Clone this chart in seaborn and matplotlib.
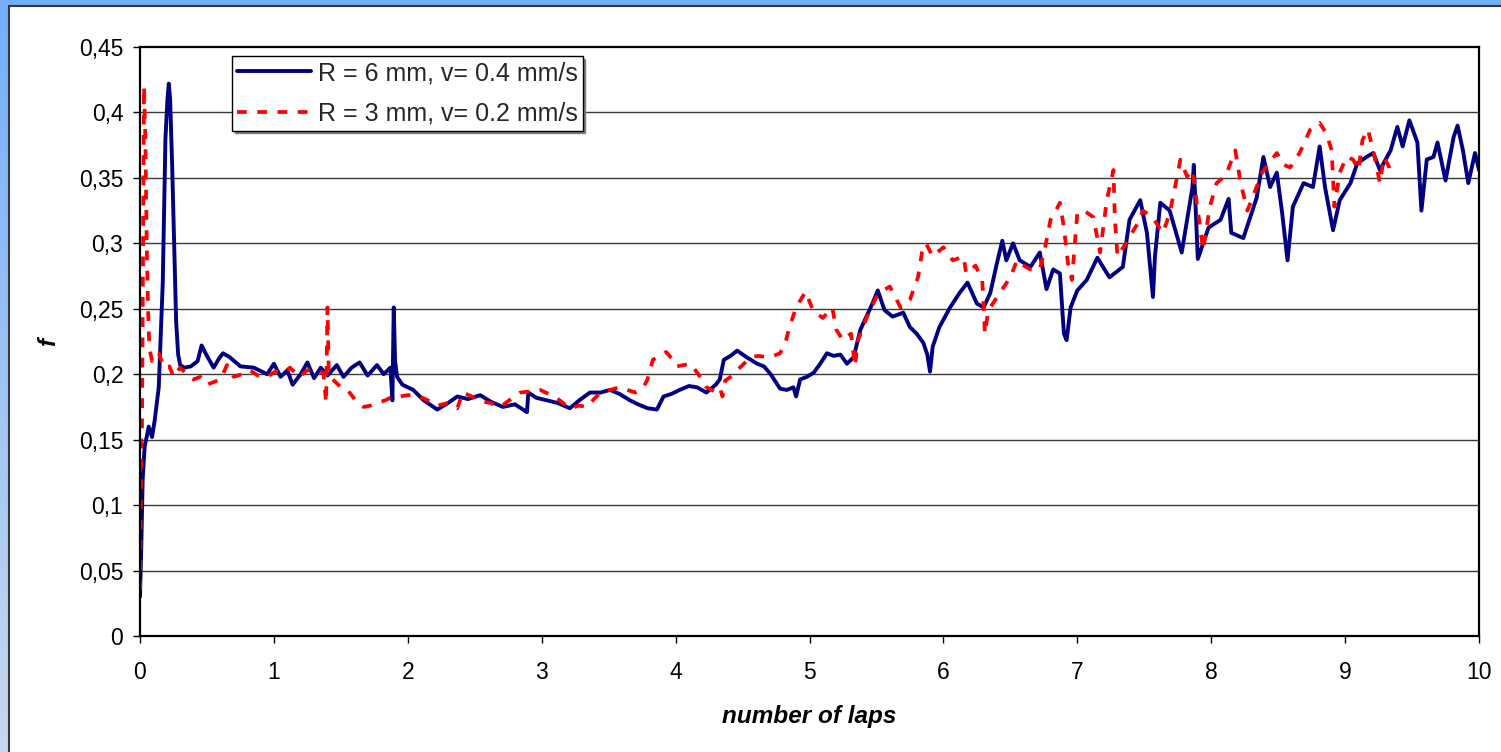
import numpy as np
import pandas as pd
import matplotlib
matplotlib.use("Agg")
import matplotlib.pyplot as plt
from matplotlib.patches import Rectangle
import seaborn as sns

# ---------------- data ----------------
blue_laps = [0.0, 0.01, 0.02, 0.035, 0.05, 0.065, 0.09, 0.11, 0.14, 0.17, 0.19, 0.205, 0.215, 0.225, 0.24,
             0.255, 0.27, 0.285, 0.30, 0.33, 0.38, 0.43, 0.46, 0.50, 0.55, 0.59, 0.62, 0.67, 0.75, 0.85,
             0.95, 1.0, 1.05, 1.1, 1.14, 1.2, 1.25, 1.3, 1.35, 1.4, 1.47, 1.52, 1.58, 1.64, 1.7, 1.77,
             1.82, 1.87, 1.885, 1.895, 1.905, 1.92, 1.96, 2.04, 2.12, 2.22, 2.3, 2.37, 2.45, 2.54, 2.62,
             2.71, 2.8, 2.89, 2.9, 2.96, 3.04, 3.12, 3.21, 3.28, 3.36, 3.44, 3.51, 3.58, 3.66, 3.72, 3.79,
             3.86, 3.91, 3.97, 4.03, 4.1, 4.16, 4.23, 4.3, 4.33, 4.36, 4.41, 4.46, 4.53, 4.61, 4.66, 4.71,
             4.78, 4.83, 4.88, 4.9, 4.93, 4.98, 5.03, 5.08, 5.13, 5.18, 5.23, 5.28, 5.33, 5.38, 5.43, 5.47,
             5.51, 5.56, 5.62, 5.70, 5.75, 5.80, 5.85, 5.88, 5.90, 5.92, 5.97, 6.05, 6.12, 6.18, 6.25,
             6.30, 6.35, 6.40, 6.44, 6.47, 6.52, 6.57, 6.65, 6.72, 6.77, 6.82, 6.87, 6.90, 6.92, 6.95,
             7.0, 7.07, 7.15, 7.24, 7.34, 7.39, 7.47, 7.52, 7.565, 7.58, 7.62, 7.69, 7.78, 7.86, 7.87,
             7.90, 7.98, 8.07, 8.13, 8.15, 8.24, 8.34, 8.39, 8.44, 8.49, 8.53, 8.57, 8.61, 8.69, 8.76,
             8.81, 8.85, 8.91, 8.96, 9.04, 9.09, 9.16, 9.21, 9.26, 9.34, 9.39, 9.43, 9.48, 9.54, 9.57,
             9.61, 9.66, 9.69, 9.75, 9.81, 9.84, 9.88, 9.92, 9.97, 10.0]
blue_f = [0.03, 0.07, 0.12, 0.145, 0.152, 0.16, 0.152, 0.165, 0.19, 0.27, 0.38, 0.41, 0.422, 0.41, 0.36,
          0.30, 0.24, 0.215, 0.207, 0.205, 0.206, 0.21, 0.222, 0.214, 0.205, 0.212, 0.216, 0.213, 0.206, 0.205,
          0.2, 0.208, 0.198, 0.203, 0.192, 0.2, 0.209, 0.197, 0.205, 0.199, 0.207, 0.198, 0.205, 0.209, 0.199, 0.207,
          0.2, 0.205, 0.18, 0.251, 0.21, 0.198, 0.192, 0.188, 0.18, 0.173, 0.178, 0.183, 0.181, 0.184, 0.179,
          0.175, 0.177, 0.171, 0.186, 0.182, 0.18, 0.178, 0.174, 0.18, 0.186, 0.186, 0.188, 0.185, 0.18, 0.177, 0.174,
          0.173, 0.183, 0.185, 0.188, 0.191, 0.19, 0.186, 0.192, 0.196, 0.211, 0.214, 0.218, 0.213, 0.208, 0.206, 0.2,
          0.189, 0.188, 0.19, 0.183, 0.196, 0.198, 0.201, 0.208, 0.216, 0.214, 0.215, 0.208, 0.213, 0.234, 0.245, 0.254,
          0.264, 0.249, 0.244, 0.247, 0.236, 0.231, 0.224, 0.215, 0.202, 0.221, 0.236, 0.251, 0.262, 0.27, 0.254,
          0.251, 0.262, 0.285, 0.302, 0.287, 0.3, 0.287, 0.282, 0.293, 0.265, 0.28, 0.277, 0.231, 0.226, 0.251,
          0.264, 0.272, 0.289, 0.274, 0.282, 0.318, 0.333, 0.308, 0.259, 0.29, 0.331, 0.325, 0.293, 0.343, 0.36,
          0.288, 0.312, 0.318, 0.334, 0.308, 0.304, 0.335, 0.366, 0.343, 0.354, 0.323, 0.287, 0.328, 0.346, 0.343,
          0.374, 0.343, 0.31, 0.333, 0.346, 0.361, 0.366, 0.369, 0.356, 0.371, 0.389, 0.374, 0.394, 0.377, 0.325,
          0.364, 0.366, 0.377, 0.348, 0.381, 0.39, 0.371, 0.346, 0.369, 0.356]

red_laps = [0.0, 0.005, 0.01, 0.015, 0.02, 0.025, 0.03, 0.04, 0.05, 0.06, 0.07, 0.09, 0.11, 0.14, 0.18, 0.22,
            0.25, 0.30, 0.35, 0.40, 0.45, 0.50, 0.55, 0.60, 0.65, 0.70, 0.76, 0.82, 0.88, 0.95, 1.01, 1.07,
            1.12, 1.19, 1.25, 1.32, 1.37, 1.39, 1.40, 1.41, 1.44, 1.5, 1.55, 1.61, 1.67, 1.72, 1.77, 1.83,
            1.89, 1.94, 2.0, 2.07, 2.15, 2.22, 2.3, 2.37, 2.41, 2.48, 2.56, 2.62, 2.69, 2.77, 2.84, 2.92,
            2.99, 3.05, 3.11, 3.16, 3.21, 3.28, 3.34, 3.39, 3.44, 3.51, 3.58, 3.64, 3.70, 3.76, 3.79, 3.83,
            3.88, 3.93, 3.97, 4.01, 4.06, 4.11, 4.17, 4.23, 4.29, 4.33, 4.35, 4.37, 4.41, 4.46, 4.51, 4.56,
            4.62, 4.68, 4.73, 4.78, 4.82, 4.85, 4.90, 4.97, 5.03, 5.10, 5.17, 5.20, 5.25, 5.31, 5.34, 5.36,
            5.38, 5.43, 5.50, 5.55, 5.60, 5.68, 5.75, 5.81, 5.84, 5.87, 5.92, 6.0, 6.07, 6.15, 6.17, 6.24,
            6.29, 6.31, 6.33, 6.35, 6.42, 6.50, 6.55, 6.60, 6.65, 6.72, 6.76, 6.80, 6.84, 6.87, 6.90, 6.93,
            6.96, 7.0, 7.05, 7.12, 7.17, 7.22, 7.27, 7.28, 7.30, 7.35, 7.39, 7.45, 7.49, 7.56, 7.64, 7.69,
            7.74, 7.77, 7.82, 7.86, 7.90, 7.94, 7.99, 8.04, 8.11, 8.18, 8.22, 8.27, 8.32, 8.38, 8.43, 8.49,
            8.54, 8.59, 8.66, 8.74, 8.81, 8.86, 8.90, 8.92, 8.96, 9.01, 9.06, 9.10, 9.13, 9.17, 9.21, 9.26,
            9.29, 9.33, 9.35]
red_f = [0.035, 0.10, 0.155, 0.16, 0.25, 0.35, 0.42, 0.38, 0.30, 0.25, 0.22, 0.21, 0.215, 0.216, 0.205, 0.206,
         0.198, 0.205, 0.2, 0.196, 0.198, 0.192, 0.194, 0.196, 0.207, 0.198, 0.2, 0.203, 0.199, 0.198, 0.202, 0.201,
         0.205, 0.198, 0.203, 0.203, 0.201, 0.178, 0.251, 0.2, 0.196, 0.19, 0.188, 0.18, 0.175, 0.176, 0.178, 0.18,
         0.183, 0.183, 0.184, 0.184, 0.18, 0.176, 0.178, 0.174, 0.186, 0.183, 0.179, 0.178, 0.175, 0.181, 0.186, 0.187,
         0.188, 0.185, 0.182, 0.178, 0.174, 0.176, 0.175, 0.181, 0.186, 0.188, 0.19, 0.188, 0.186, 0.19, 0.196, 0.211,
         0.214, 0.217, 0.212, 0.206, 0.207, 0.208, 0.2, 0.19, 0.187, 0.19, 0.183, 0.195, 0.198, 0.203, 0.208, 0.213,
         0.214, 0.213, 0.214, 0.216, 0.224, 0.236, 0.251, 0.263, 0.248, 0.243, 0.251, 0.234, 0.226, 0.231, 0.206, 0.225,
         0.231, 0.244, 0.259, 0.264, 0.267, 0.251, 0.257, 0.274, 0.293, 0.3, 0.29, 0.297, 0.287, 0.29, 0.277, 0.283,
         0.272, 0.231, 0.245, 0.251, 0.262, 0.274, 0.287, 0.283, 0.28, 0.28, 0.297, 0.318, 0.325, 0.331, 0.312, 0.285,
         0.272, 0.323, 0.325, 0.32, 0.293, 0.333, 0.356, 0.32, 0.29, 0.298, 0.305, 0.315, 0.325, 0.32, 0.308, 0.323,
         0.348, 0.364, 0.351, 0.356, 0.325, 0.295, 0.328, 0.346, 0.352, 0.371, 0.346, 0.325, 0.338, 0.354, 0.361, 0.369,
         0.36, 0.358, 0.369, 0.387, 0.392, 0.384, 0.371, 0.328, 0.354, 0.366, 0.364, 0.356, 0.379, 0.387, 0.371, 0.346,
         0.366, 0.358, 0.351]

series_names = ["R = 6 mm, v= 0.4 mm/s", "R = 3 mm, v= 0.2 mm/s"]
y_ticks = [0, 0.05, 0.1, 0.15, 0.2, 0.25, 0.3, 0.35, 0.4, 0.45]
y_tick_labels = ["0", "0,05", "0,1", "0,15", "0,2", "0,25", "0,3", "0,35", "0,4", "0,45"]
x_ticks = [0, 1, 2, 3, 4, 5, 6, 7, 8, 9, 10]
x_label = "number of laps"
y_label = "f"

# ---------------- style ----------------
sns.set_theme(style="white")
plt.rcParams['font.family'] = ['Liberation Sans', 'DejaVu Sans']

W, H = 1501, 752
fig = plt.figure(figsize=(W / 100, H / 100), dpi=100)

# background frame (blue gradient border)
ax_bg = fig.add_axes([0, 0, 1, 1], zorder=-10)
top_c = np.array([0x74, 0xae, 0xfa]) / 255.0
bot_c = np.array([0xc8, 0xd8, 0xec]) / 255.0
t = np.linspace(0, 1, 256)[:, None]
grad = (1 - t) * top_c + t * bot_c
ax_bg.imshow(grad[:, None, :], aspect='auto', extent=[0, 1, 0, 1], origin='upper')
ax_bg.add_patch(Rectangle((8.5 / W, -0.01), 1.0, (H - 5.5) / H + 0.01, facecolor='white',
                          edgecolor='#2f3a45', linewidth=1.5))
ax_bg.set_xlim(0, 1)
ax_bg.set_ylim(0, 1)
ax_bg.set_axis_off()

# main axes
x0, x1, y_top, y_bot = 140, 1479, 47, 636
ax = fig.add_axes([x0 / W, 1 - y_bot / H, (x1 - x0) / W, (y_bot - y_top) / H])
ax.set_facecolor('white')

df_blue = pd.DataFrame({"laps": blue_laps, "f": blue_f})
df_red = pd.DataFrame({"laps": red_laps, "f": red_f})

sns.lineplot(data=df_blue, x="laps", y="f", ax=ax, color='#000080', linewidth=2.8,
             estimator=None, sort=False, label=series_names[0])
sns.lineplot(data=df_red, x="laps", y="f", ax=ax, color='#ff0000', linewidth=2.7,
             linestyle=(0, (2.6, 2.8)), estimator=None, sort=False, label=series_names[1])

ax.set_xlim(0, 10)
ax.set_ylim(0, 0.45)
ax.set_yticks(y_ticks)
ax.set_yticklabels(y_tick_labels)
ax.set_xticks(x_ticks)
ax.set_xticklabels([str(v) for v in x_ticks])

for yv in y_ticks[1:-1]:
    ax.axhline(yv, color='#3a3a3a', linewidth=1.0, zorder=0.5)

for s in ax.spines.values():
    s.set_visible(True)
    s.set_color('black')
    s.set_linewidth(1.6)

ax.tick_params(axis='y', which='major', direction='out', length=5, width=1, color='black',
               labelsize=16.5, labelcolor='black', pad=7, left=True)
ax.tick_params(axis='x', which='major', direction='out', length=5, width=1, color='black',
               labelsize=16.5, labelcolor='black', pad=13, bottom=True)

ax.set_xlabel(x_label, fontsize=17.5, fontweight='bold', fontstyle='italic', color='black')
ax.set_ylabel(y_label, fontsize=17.5, fontweight='bold', fontstyle='italic', color='black')
ax.xaxis.set_label_coords(0.5, -0.117)
ax.yaxis.set_label_coords(-0.06, 0.5)

leg = ax.legend(loc='upper left', bbox_to_anchor=((232 - x0) / (x1 - x0), (y_bot - 56) / (y_bot - y_top)),
                borderaxespad=0, fontsize=18, frameon=True, fancybox=False, framealpha=1,
                edgecolor='black', handlelength=2.95, handletextpad=0.28, labelspacing=0.66,
                borderpad=0.2, shadow={'color': '#808080', 'alpha': 1})
leg.get_frame().set_linewidth(1.0)

fig.savefig("out.png", dpi=100)
